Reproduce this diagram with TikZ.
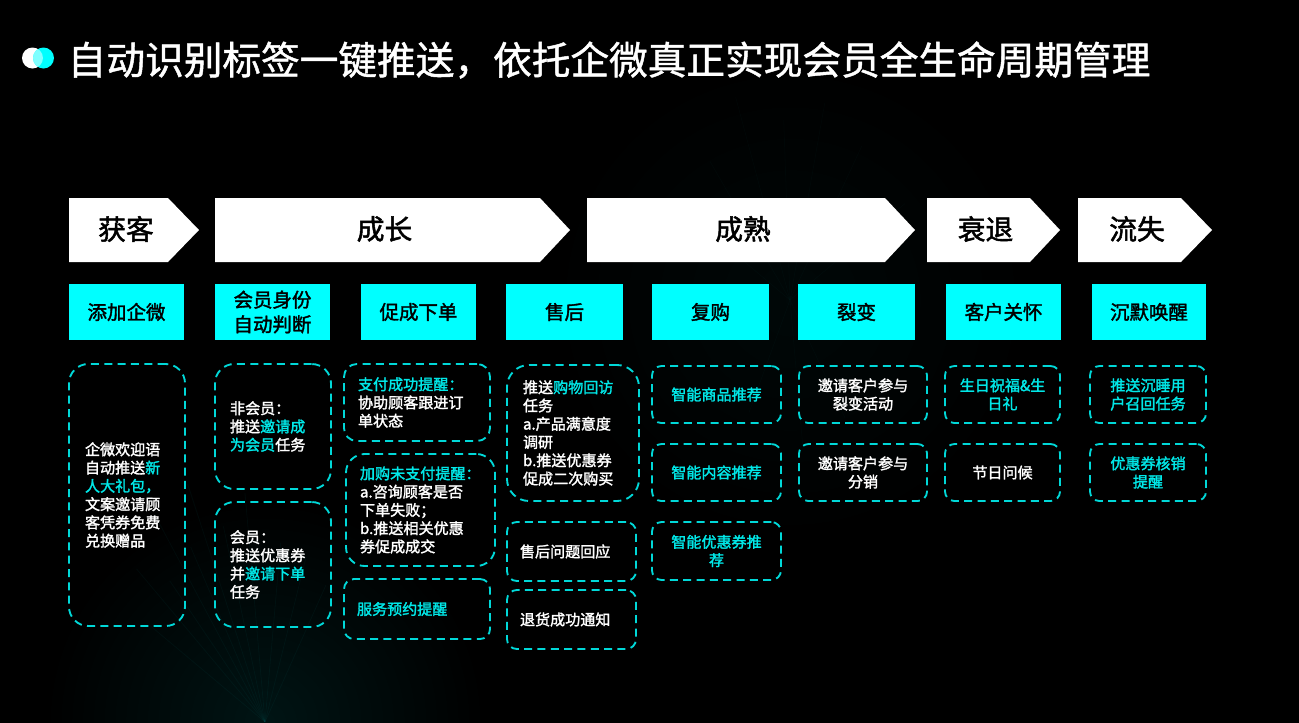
\documentclass[tikz,border=0pt]{standalone}
\usepackage{fontspec}
\setmainfont{Noto Sans CJK SC}
\newfontfamily\medfont[FakeBold=1.2]{Noto Sans CJK SC}
\newfontfamily\headfont[FakeBold=1.8]{Noto Sans CJK SC}
\newfontfamily\smallfont[FakeBold=1.8]{Noto Sans CJK SC}
\definecolor{cy}{HTML}{00FFFF}
\definecolor{dashc}{HTML}{00D8D8}
\definecolor{txtc}{HTML}{00E8E8}
\newcommand{\hl}[1]{\textcolor{txtc}{#1}}
\tikzset{
  x=0.75pt,y=-0.75pt,
  titletext/.style={text=white,font=\medfont\fontsize{29}{34}\selectfont,anchor=west,inner sep=0},
  headtext/.style={text=black,font=\headfont\fontsize{20.8}{24}\selectfont,inner sep=0},
  headshape/.style={fill=white,draw=none},
  cybox/.style={fill=cy,draw=none,text=black,font=\headfont\fontsize{14.6}{18.5}\selectfont,align=center,inner sep=0},
  dbox/.style={draw=dashc,line width=1.4pt,dash pattern=on 6pt off 4pt,text=white,font=\smallfont\fontsize{11.3}{13.7}\selectfont,inner ysep=0pt},
  ray/.style={draw=cy,line width=0.6pt,opacity=0.035}
}
% name, x0,y0,x1,y1, left pad, align, text
\newcommand{\dashnode}[8]{%
  \pgfmathsetmacro\bw{(#4-#2)*0.75}%
  \pgfmathsetmacro\bh{(#5-#3)*0.75}%
  \pgfmathsetmacro\bt{\bw-2*#6*0.75}%
  \pgfmathsetmacro\br{0.1667*min(\bw,\bh)}%
  \node[dbox,rounded corners=\br pt,align=#7,minimum width=\bw pt,minimum height=\bh pt,text width=\bt pt,inner xsep=#6*0.75pt] (#1) at ({(#2+#4)/2},{(#3+#5)/2}) {#8};%
}
\newcommand{\cyanbox}[5]{%
  \pgfmathsetmacro\bw{(#3-#2)*0.75}%
  \node[cybox,minimum width=\bw pt,minimum height=42pt] (#1) at ({(#2+#3)/2},312) {#4};%
}
\newcommand{\headarrow}[5]{% name x0 tipstart x1 text
  \fill[headshape] (#2,198) -- (#3,198) -- (#4,230) -- (#3,262) -- (#2,262) -- cycle;
  \node[headtext] (#1) at ({(#2+#3)/2+(#4-#3)/2-8},229) {#5};%
}
\begin{document}
\begin{tikzpicture}
\useasboundingbox (0,0) rectangle (1299,722);
\fill[black] (-4,-4) rectangle (1303,726);
\begin{scope}
\clip (-4,-4) rectangle (1303,726);
\shade[inner color=cy!8!black,outer color=black] (265,722) circle[radius=220];
\shade[inner color=cy!3!black,outer color=black] (790,300) circle[radius=240];
\foreach \a/\r in {95/230,102/200,108/250,113/190,118/235,124/170,130/200,85/180,76/170,66/150,140/150}{
  \draw[ray] (265,722) -- ++({-\a}:{\r*1.0});
}
\foreach \a/\r in {40/150,65/170,80/200,92/180,105/210,120/160,140/150,250/120,275/150,295/130}{
  \draw[ray,opacity=0.02] (790,300) -- ++({-\a}:{\r});
}
\end{scope}
% logo
\fill[white] (32.5,58) circle[radius=10.5];
\fill[cy] (43.5,58) circle[radius=10.5];
\begin{scope}
\clip (32.5,58) circle[radius=10.5];
\fill[cy!50!white] (43.5,58) circle[radius=10.5];
\end{scope}
\node[titletext] (title) at (67.5,60) {自动识别标签一键推送，依托企微真正实现会员全生命周期管理};
% stage arrows
\headarrow{h1}{69}{168}{199}{获客}
\headarrow{h2}{215}{540}{570}{成长}
\headarrow{h3}{587}{885}{915}{成熟}
\headarrow{h4}{927}{1030}{1060}{衰退}
\headarrow{h5}{1078}{1181}{1212}{流失}
% cyan boxes
\cyanbox{c1}{69}{184}{添加企微}{}
\cyanbox{c2}{215}{330}{会员身份\\自动判断}{}
\cyanbox{c3}{361}{476}{促成下单}{}
\cyanbox{c4}{506}{623}{售后}{}
\cyanbox{c5}{652}{769}{复购}{}
\cyanbox{c6}{798}{915}{裂变}{}
\cyanbox{c7}{946}{1061}{客户关怀}{}
\cyanbox{c8}{1092}{1206}{沉默唤醒}{}
% dashed boxes
\dashnode{d1}{69}{364}{185}{626}{16}{left}{企微欢迎语\\自动推送\hl{新}\\\hl{人大礼包，}\\文案邀请顾\\客凭券免费\\兑换赠品}
\dashnode{d2}{215}{364}{331}{489}{15}{left}{非会员：\\推送\hl{邀请成}\\\hl{为会员}任务}
\dashnode{d3}{215}{502}{331}{627}{15}{left}{会员：\\推送优惠券\\并\hl{邀请下单}\\任务}
\dashnode{d4}{344}{364}{490}{441}{14}{left}{\hl{支付成功提醒：}\\协助顾客跟进订\\单状态}
\dashnode{d5}{346}{454}{495}{566}{14}{left}{\hl{加购未支付提醒：}\\a.咨询顾客是否\\下单失败；\\b.推送相关优惠\\券促成成交}
\dashnode{d6}{344}{579}{490}{639}{13}{left}{\hl{服务预约提醒}}
\dashnode{d7}{507}{365}{639}{501}{16}{left}{推送\hl{购物回访}\\任务\\a.产品满意度\\调研\\b.推送优惠券\\促成二次购买}
\dashnode{d8}{507}{522}{636}{581}{13}{left}{售后问题回应}
\dashnode{d9}{507}{590}{636}{649}{13}{left}{退货成功通知}
\dashnode{e1}{652}{366}{781}{423}{8}{center}{\hl{智能商品推荐}}
\dashnode{e2}{652}{444}{781}{501}{8}{center}{\hl{智能内容推荐}}
\dashnode{e3}{652}{522}{781}{580}{8}{center}{\hl{智能优惠券推}\\\hl{荐}}
\dashnode{f1}{799}{366}{927}{423}{8}{center}{邀请客户参与\\裂变活动}
\dashnode{f2}{799}{444}{927}{501}{8}{center}{邀请客户参与\\分销}
\dashnode{g1}{945}{366}{1060}{423}{8}{center}{\hl{生日祝福\&生}\\\hl{日礼}}
\dashnode{g2}{945}{444}{1060}{501}{8}{center}{节日问候}
\dashnode{k1}{1090}{366}{1206}{423}{8}{center}{\hl{推送沉睡用}\\\hl{户召回任务}}
\dashnode{k2}{1090}{444}{1206}{501}{8}{center}{\hl{优惠券核销}\\\hl{提醒}}
\end{tikzpicture}
\end{document}
